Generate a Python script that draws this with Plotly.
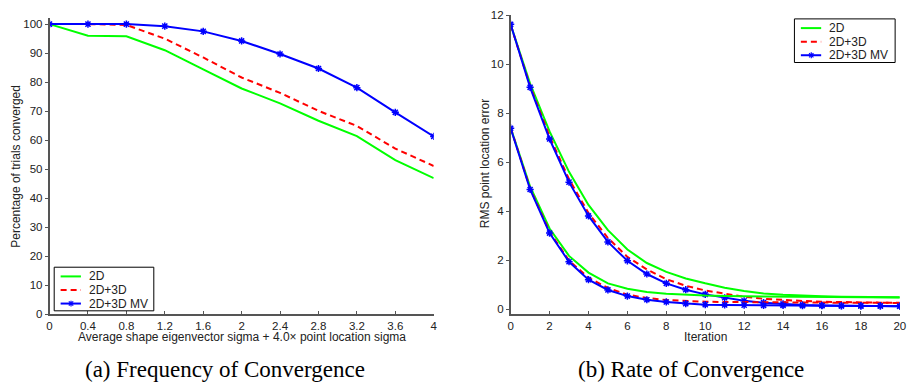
import plotly.graph_objects as go

# ---- data: (a) frequency of convergence ----
sigma = [0, 0.4, 0.8, 1.2, 1.6, 2.0, 2.4, 2.8, 3.2, 3.6, 4.0]
sigma_labels = ["0", "0.4", "0.8", "1.2", "1.6", "2", "2.4", "2.8", "3.2", "3.6", "4"]
freq_2d = [100, 96.0, 95.8, 91.0, 84.4, 77.8, 72.7, 66.7, 61.4, 53.1, 46.9]
freq_2d3d = [100, 100, 99.7, 95.0, 88.5, 81.6, 76.3, 70.1, 64.9, 57.1, 51.1]
freq_mv = [100, 100, 100, 99.3, 97.5, 94.2, 89.7, 84.7, 78.1, 69.6, 61.3]
pct_ticks = list(range(0, 101, 10))

# ---- data: (b) rate of convergence ----
iteration = list(range(21))
iter_ticks = list(range(0, 21, 2))
rms_ticks = list(range(0, 13, 2))
rms_2d_hi = [11.6, 9.2, 7.25, 5.6, 4.25, 3.22, 2.43, 1.88, 1.52, 1.25, 1.05, 0.87, 0.74,
             0.64, 0.58, 0.54, 0.52, 0.5, 0.49, 0.48, 0.48]
rms_2d3d_hi = [11.6, 9.1, 7.05, 5.3, 3.92, 2.9, 2.13, 1.62, 1.22, 0.95, 0.76, 0.62, 0.5,
               0.42, 0.36, 0.33, 0.3, 0.28, 0.27, 0.26, 0.26]
rms_mv_hi = [11.62, 9.05, 6.94, 5.18, 3.8, 2.74, 1.97, 1.43, 1.05, 0.79, 0.6, 0.46, 0.34,
             0.26, 0.21, 0.17, 0.15, 0.14, 0.13, 0.13, 0.12]
rms_2d_lo = [7.4, 5.0, 3.29, 2.17, 1.49, 1.05, 0.83, 0.7, 0.63, 0.58, 0.55, 0.53, 0.52,
             0.51, 0.5, 0.5, 0.5, 0.49, 0.48, 0.48, 0.47]
rms_2d3d_lo = [7.4, 4.92, 3.15, 1.98, 1.28, 0.86, 0.59, 0.45, 0.37, 0.33, 0.3, 0.29, 0.28,
               0.27, 0.27, 0.26, 0.26, 0.26, 0.26, 0.25, 0.25]
rms_mv_lo = [7.38, 4.88, 3.1, 1.93, 1.2, 0.78, 0.53, 0.38, 0.29, 0.22, 0.18, 0.17, 0.16,
             0.15, 0.15, 0.14, 0.14, 0.13, 0.13, 0.13, 0.12]

names = ["2D", "2D+3D", "2D+3D MV"]

W, H = 914, 390
GREEN, RED, BLUE = "#00ff00", "#ff0000", "#0000ff"
FONT = "Liberation Sans, Arial, sans-serif"
SERIF = "Liberation Serif, Times New Roman, serif"
TXT = "#222222"
AXC = "#555555"


def px(x):
    return x / W


def py(y):
    return 1 - y / H


def line_style(i):
    if i == 0:
        return dict(color=GREEN, width=2)
    if i == 1:
        return dict(color=RED, width=2, dash="6px,4px")
    return dict(color=BLUE, width=2)


marker_mv = dict(symbol="asterisk-open", size=6, color=BLUE, line=dict(color=BLUE, width=1.5))

fig = go.Figure()

# left panel
for i, ys in enumerate([freq_2d, freq_2d3d, freq_mv]):
    fig.add_trace(go.Scatter(
        x=sigma, y=ys, name=names[i], mode="lines+markers" if i == 2 else "lines",
        line=line_style(i), marker=marker_mv if i == 2 else None,
        xaxis="x", yaxis="y", showlegend=False))

# right panel
for series in ([rms_2d_hi, rms_2d3d_hi, rms_mv_hi], [rms_2d_lo, rms_2d3d_lo, rms_mv_lo]):
    for i, ys in enumerate(series):
        fig.add_trace(go.Scatter(
            x=iteration, y=ys, name=names[i], mode="lines+markers" if i == 2 else "lines",
            line=line_style(i), marker=marker_mv if i == 2 else None,
            xaxis="x2", yaxis="y2", showlegend=False))

axis_common = dict(showgrid=False, zeroline=False, showline=True, linecolor=AXC,
                   linewidth=1.5, tickcolor=AXC, ticklen=3, tickwidth=1,
                   tickfont=dict(family=FONT, size=11.5, color=TXT))

fig.update_layout(
    width=W, height=H, margin=dict(l=0, r=0, t=0, b=0),
    paper_bgcolor="white", plot_bgcolor="white", showlegend=False,
    xaxis=dict(domain=[px(47), px(435)], range=[0, 4], tickvals=sigma, ticktext=sigma_labels,
               ticks="inside", anchor="y", **axis_common),
    yaxis=dict(domain=[py(318), py(12.7)], range=[0, 102], tickvals=pct_ticks,
               ticks="outside", anchor="x", **axis_common),
    xaxis2=dict(domain=[px(512.7), px(905.7)], range=[0, 20], tickvals=iter_ticks,
                ticks="inside", anchor="y2", **axis_common),
    yaxis2=dict(domain=[py(318), py(9.3)], range=[-0.21, 12], tickvals=rms_ticks,
                ticks="outside", anchor="x2", **axis_common),
)


def add_text(text, x, y, size, family=FONT, color=TXT, angle=0, xanchor="center"):
    fig.add_annotation(text=text, x=px(x), y=py(y), xref="paper", yref="paper",
                       showarrow=False, xanchor=xanchor, yanchor="middle",
                       textangle=angle, font=dict(family=family, size=size, color=color),
                       borderpad=0)


# axis titles and captions
add_text("Average shape eigenvector sigma + 4.0\u00d7 point location sigma", 241, 341, 12)
add_text("Iteration", 709, 342, 12)
add_text("Percentage of trials converged", 13, 165, 12, angle=-90)
add_text("RMS point location error", 487, 163, 12, angle=-90)
add_text("(a) Frequency of Convergence", 224, 375, 23, family=SERIF, color="black")
add_text("(b) Rate of Convergence", 695, 375, 23, family=SERIF, color="black")


# custom legends (boxed, compact rows like the reference)
def add_legend(x0, y0, x1, y1):
    fig.add_shape(type="rect", xref="paper", yref="paper",
                  x0=px(x0), x1=px(x1), y0=py(y0), y1=py(y1),
                  line=dict(color="black", width=1), fillcolor="white", layer="above")
    rows = [y0 + 9.5, y0 + 23.5, y0 + 37.5]
    for i, ry in enumerate(rows):
        ls = line_style(i)
        fig.add_shape(type="line", xref="paper", yref="paper",
                      x0=px(x0 + 6.5), x1=px(x0 + 27), y0=py(ry), y1=py(ry),
                      line=dict(color=ls["color"], width=2, dash=ls.get("dash", "solid")),
                      layer="above")
        if i == 2:
            cx = x0 + 17
            for dx, dy in [(3, 0), (0, 3), (2.2, 2.2), (2.2, -2.2)]:
                fig.add_shape(type="line", xref="paper", yref="paper",
                              x0=px(cx - dx), x1=px(cx + dx), y0=py(ry - dy), y1=py(ry + dy),
                              line=dict(color=BLUE, width=1.2), layer="above")
        add_text(names[i], x0 + 34, ry, 12, xanchor="left")


add_legend(51.7, 269.5, 152.3, 314.5)
add_legend(799.3, 13.3, 901, 58.3)

fig.write_html("out.html", config={"displayModeBar": False},
               post_script="document.body.style.margin='0';document.body.style.overflow='hidden';")
